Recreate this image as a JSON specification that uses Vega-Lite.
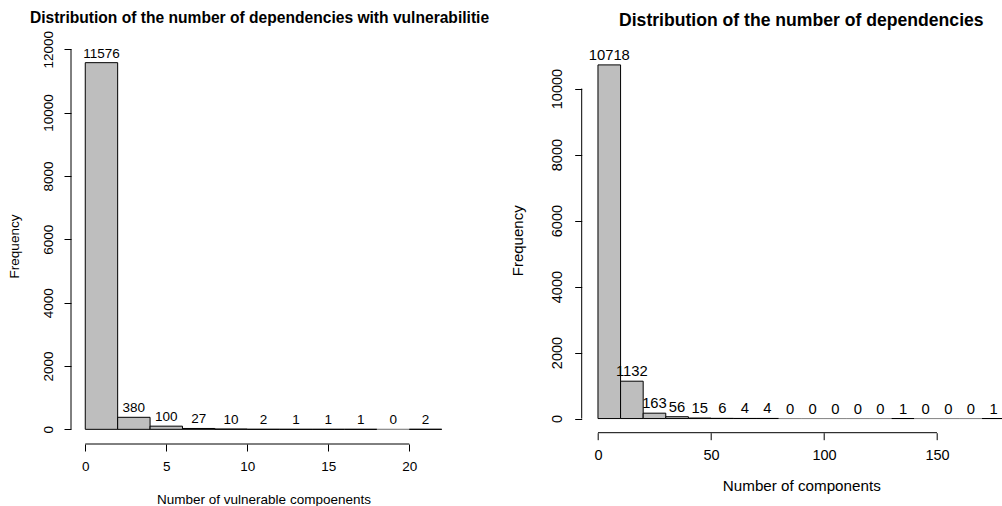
{
  "$schema": "https://vega.github.io/schema/vega-lite/v6.json",
  "background": "white",
  "padding": {"left": 7, "top": 10, "right": 0, "bottom": 0},
  "bounds": "flush",
  "spacing": 125.7,
  "config": {
    "view": {"stroke": null},
    "font": "Liberation Sans",
    "axis": {
      "domain": false, "grid": false, "ticks": true, "tickSize": 7, "tickColor": "black", "tickWidth": 1,
      "labelColor": "black", "titleColor": "black", "titleFontWeight": "normal",
      "labelFont": "Liberation Sans", "titleFont": "Liberation Sans",
      "labelFlush": false, "labelOverlap": false, "format": "d"
    },
    "title": {"font": "Liberation Sans", "fontWeight": "bold", "color": "black", "anchor": "middle", "frame": "group"}
  },
  "hconcat": [
    {
      "width": 385,
      "height": 396,
      "title": {"text": "Distribution of the number of dependencies with vulnerabilitie", "fontSize": 15.6, "offset": 4, "dx": -4},
      "data": {"values": [
        {"start": 0, "end": 2, "mid": 1, "count": 11576},
        {"start": 2, "end": 4, "mid": 3, "count": 380},
        {"start": 4, "end": 6, "mid": 5, "count": 100},
        {"start": 6, "end": 8, "mid": 7, "count": 27},
        {"start": 8, "end": 10, "mid": 9, "count": 10},
        {"start": 10, "end": 12, "mid": 11, "count": 2},
        {"start": 12, "end": 14, "mid": 13, "count": 1},
        {"start": 14, "end": 16, "mid": 15, "count": 1},
        {"start": 16, "end": 18, "mid": 17, "count": 1},
        {"start": 18, "end": 20, "mid": 19, "count": 0},
        {"start": 20, "end": 22, "mid": 21, "count": 2}
      ]},
      "layer": [
        {
          "mark": {"type": "rect", "fill": "#BEBEBE", "strokeWidth": 1},
          "encoding": {
            "x": {"field": "start", "type": "quantitative",
              "scale": {"domain": [-0.88, 22.88], "nice": false, "zero": false},
              "axis": {"values": [0, 5, 10, 15, 20], "labelFontSize": 13.5, "labelPadding": 8,
                "title": "Number of vulnerable compoenents", "titleFontSize": 13.5, "titleY": 55, "titleBaseline": "middle"}},
            "x2": {"field": "end"},
            "y": {"field": "count", "type": "quantitative",
              "scale": {"domain": [-463, 12039], "nice": false, "zero": false},
              "axis": {"values": [0, 2000, 4000, 6000, 8000, 10000, 12000], "labelFontSize": 13.5, "labelAngle": -90,
                "labelAlign": "center", "labelBaseline": "bottom", "labelPadding": 9,
                "title": "Frequency", "titleFontSize": 13.5, "titleAngle": -90, "titleX": -57, "titleY": 198,
                "titleAlign": "center", "titleBaseline": "middle"}},
            "y2": {"datum": 0},
            "stroke": {"condition": {"test": "datum.count == 0", "value": "#8c8c8c"}, "value": "black"}
          }
        },
        {
          "mark": {"type": "text", "fontSize": 13.5, "baseline": "middle", "dy": -9, "color": "black"},
          "encoding": {
            "x": {"field": "mid", "type": "quantitative"},
            "y": {"field": "count", "type": "quantitative"},
            "text": {"field": "count", "type": "quantitative", "format": "d"}
          }
        },
        {
          "data": {"values": [{}]},
          "mark": {"type": "rule", "color": "black", "strokeWidth": 1},
          "encoding": {"x": {"datum": -0.88}, "y": {"datum": 0}, "y2": {"datum": 12000}}
        },
        {
          "data": {"values": [{}]},
          "mark": {"type": "rule", "color": "black", "strokeWidth": 1},
          "encoding": {"y": {"datum": -463}, "x": {"datum": 0}, "x2": {"datum": 20}}
        }
      ]
    },
    {
      "width": 420.6,
      "height": 384.7,
      "title": {"text": "Distribution of the number of dependencies", "fontSize": 17.6, "offset": 18, "dx": 9.3},
      "data": {"values": [
        {"start": 0, "end": 10, "mid": 5, "count": 10718},
        {"start": 10, "end": 20, "mid": 15, "count": 1132},
        {"start": 20, "end": 30, "mid": 25, "count": 163},
        {"start": 30, "end": 40, "mid": 35, "count": 56},
        {"start": 40, "end": 50, "mid": 45, "count": 15},
        {"start": 50, "end": 60, "mid": 55, "count": 6},
        {"start": 60, "end": 70, "mid": 65, "count": 4},
        {"start": 70, "end": 80, "mid": 75, "count": 4},
        {"start": 80, "end": 90, "mid": 85, "count": 0},
        {"start": 90, "end": 100, "mid": 95, "count": 0},
        {"start": 100, "end": 110, "mid": 105, "count": 0},
        {"start": 110, "end": 120, "mid": 115, "count": 0},
        {"start": 120, "end": 130, "mid": 125, "count": 0},
        {"start": 130, "end": 140, "mid": 135, "count": 1},
        {"start": 140, "end": 150, "mid": 145, "count": 0},
        {"start": 150, "end": 160, "mid": 155, "count": 0},
        {"start": 160, "end": 170, "mid": 165, "count": 0},
        {"start": 170, "end": 180, "mid": 175, "count": 1}
      ]},
      "layer": [
        {
          "mark": {"type": "rect", "fill": "#BEBEBE", "strokeWidth": 1, "clip": true},
          "encoding": {
            "x": {"field": "start", "type": "quantitative",
              "scale": {"domain": [-7.2, 178.9], "nice": false, "zero": false},
              "axis": {"values": [0, 50, 100, 150], "labelFontSize": 14.5, "labelPadding": 9,
                "title": "Number of components", "titleFontSize": 15.2, "titleX": 219.6, "titleY": 52.6, "titleBaseline": "middle"}},
            "x2": {"field": "end"},
            "y": {"field": "count", "type": "quantitative",
              "scale": {"domain": [-428.7, 11230], "nice": false, "zero": false},
              "axis": {"values": [0, 2000, 4000, 6000, 8000, 10000], "labelFontSize": 14.5, "labelAngle": -90,
                "labelAlign": "center", "labelBaseline": "bottom", "labelPadding": 10,
                "title": "Frequency", "titleFontSize": 15, "titleAngle": -90, "titleX": -64.7, "titleY": 192.3,
                "titleAlign": "center", "titleBaseline": "middle"}},
            "y2": {"datum": 0},
            "stroke": {"condition": {"test": "datum.count == 0", "value": "#8c8c8c"}, "value": "black"}
          }
        },
        {
          "mark": {"type": "text", "fontSize": 14.8, "baseline": "middle", "dy": -9, "color": "black"},
          "encoding": {
            "x": {"field": "mid", "type": "quantitative"},
            "y": {"field": "count", "type": "quantitative"},
            "text": {"field": "count", "type": "quantitative", "format": "d"}
          }
        },
        {
          "data": {"values": [{}]},
          "mark": {"type": "rule", "color": "black", "strokeWidth": 1},
          "encoding": {"x": {"datum": -7.2}, "y": {"datum": 0}, "y2": {"datum": 10000}}
        },
        {
          "data": {"values": [{}]},
          "mark": {"type": "rule", "color": "black", "strokeWidth": 1},
          "encoding": {"y": {"datum": -428.7}, "x": {"datum": 0}, "x2": {"datum": 150}}
        }
      ]
    }
  ]
}
